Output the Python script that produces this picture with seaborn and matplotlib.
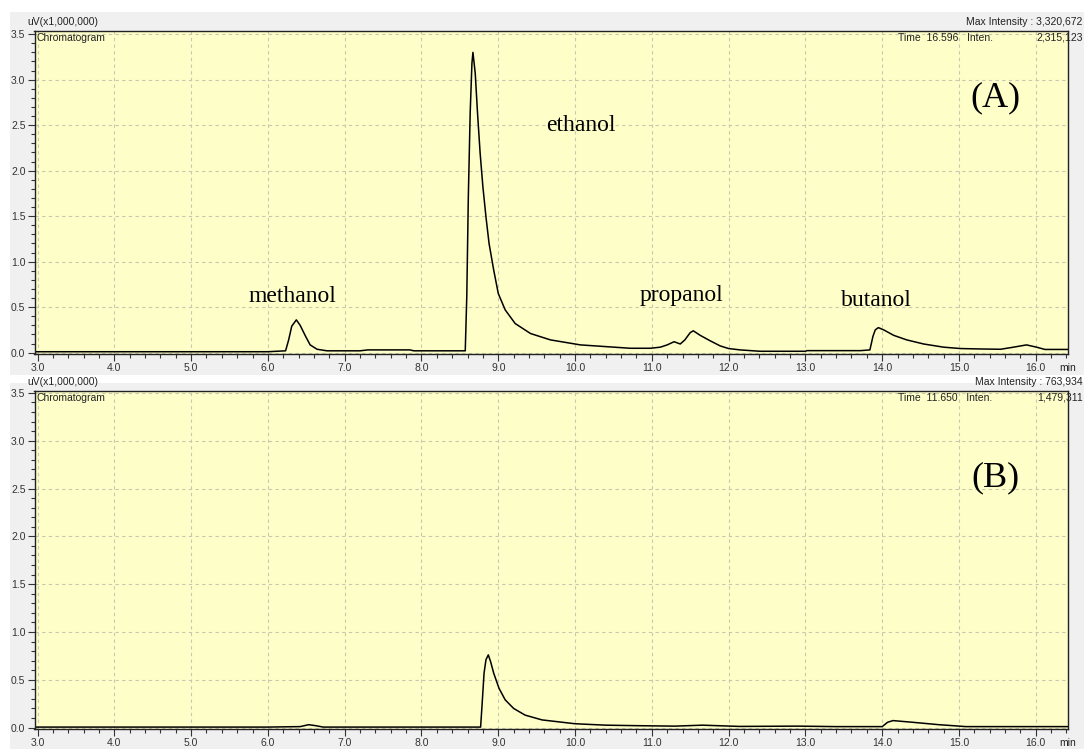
import matplotlib
matplotlib.use("Agg")
import matplotlib.pyplot as plt
import seaborn as sns
import pandas as pd
from matplotlib.patches import Rectangle
from matplotlib.ticker import MultipleLocator, FormatStrFormatter

# ---- data (time in min, intensity in uV x 1,000,000) ----
time_a = [2.97, 3.5, 4.5, 5.5, 6.0, 6.23, 6.27, 6.31, 6.37, 6.42, 6.49, 6.55, 6.64, 6.77,
          6.95, 7.20, 7.30, 7.85, 7.90, 8.57, 8.59, 8.61, 8.634, 8.657, 8.670, 8.70, 8.73,
          8.764, 8.80, 8.84, 8.88, 8.94, 9.00, 9.09, 9.22, 9.42, 9.68, 10.07, 10.72,
          10.98, 11.11, 11.20, 11.29, 11.37, 11.43, 11.50, 11.54, 11.63, 11.76, 11.89,
          12.0, 12.15, 12.41, 13.0, 13.02, 13.72, 13.84, 13.88, 13.91, 13.95, 14.02,
          14.15, 14.32, 14.54, 14.80, 15.02, 15.3, 15.54, 15.71, 15.88, 16.01, 16.12,
          16.42]
inten_a = [0.01, 0.01, 0.01, 0.01, 0.01, 0.02, 0.14, 0.29, 0.36, 0.30, 0.18, 0.085, 0.037,
           0.02, 0.02, 0.02, 0.03, 0.03, 0.02, 0.02, 0.62, 1.71, 2.63, 3.18, 3.30, 3.07, 2.63,
           2.19, 1.82, 1.49, 1.20, 0.91, 0.65, 0.47, 0.32, 0.21, 0.14, 0.085, 0.048,
           0.048, 0.06, 0.085, 0.12, 0.095, 0.14, 0.22, 0.24, 0.19, 0.13, 0.074,
           0.045, 0.03, 0.015, 0.015, 0.022, 0.022, 0.03, 0.18, 0.25, 0.275, 0.25,
           0.19, 0.14, 0.095, 0.06, 0.045, 0.04, 0.037, 0.06, 0.085, 0.06, 0.035,
           0.035]

time_b = [2.97, 4.0, 5.0, 6.0, 6.42, 6.53, 6.62, 6.72, 7.5, 8.77, 8.79, 8.815, 8.84, 8.87,
          8.90, 8.94, 9.01, 9.09, 9.20, 9.35, 9.57, 10.0, 10.4, 10.79, 11.3, 11.66, 12.14,
          12.9, 13.4, 14.0, 14.07, 14.14, 14.4, 14.74, 15.09, 16.42]
inten_b = [0.005, 0.005, 0.005, 0.005, 0.01, 0.03, 0.02, 0.005, 0.005, 0.005, 0.25, 0.57,
           0.71, 0.76, 0.69, 0.57, 0.41, 0.29, 0.20, 0.13, 0.08, 0.04, 0.025, 0.02, 0.015,
           0.025, 0.012, 0.015, 0.01, 0.01, 0.055, 0.073, 0.055, 0.03, 0.01, 0.01]

labels_a = ["methanol", "ethanol", "propanol", "butanol"]
label_x = [6.32, 10.07, 11.38, 13.92]
label_y = [0.62, 2.50, 0.63, 0.57]

header_a = ["Max Intensity : 3,320,672", "Time  16.596   Inten.", "2,315,123"]
header_b = ["Max Intensity : 763,934", "Time  11.650   Inten.", "1,479,311"]

df_a = pd.DataFrame({"time": time_a, "inten": inten_a})
df_b = pd.DataFrame({"time": time_b, "inten": inten_b})

sns.set_theme(style="white")
plt.rcParams["font.family"] = ["Liberation Sans", "DejaVu Sans"]

W, H = 1084, 749
fig = plt.figure(figsize=(W / 100, H / 100), dpi=100)
fig.patch.set_facecolor("white")

# grey panel backgrounds
fig.patches.append(Rectangle((10 / W, 1 - 375 / H), 1 - 10 / W, (375 - 12) / H,
                             transform=fig.transFigure, facecolor="#f0f0f0",
                             edgecolor="none", zorder=-10))
fig.patches.append(Rectangle((10 / W, 0), 1 - 10 / W, (749 - 383) / H,
                             transform=fig.transFigure, facecolor="#f0f0f0",
                             edgecolor="none", zorder=-10))

ax_a = fig.add_axes([34.5 / W, 1 - 354 / H, (1068 - 34.5) / W, (354 - 31) / H])
ax_b = fig.add_axes([34.5 / W, 1 - 729 / H, (1068 - 34.5) / W, (729 - 391) / H])


def style(ax, ylim, header, tag, tagy):
    ax.set_facecolor("#fefec8")
    ax.set_xlim(2.96, 16.42)
    ax.set_ylim(*ylim)
    ax.xaxis.set_major_locator(MultipleLocator(1.0))
    ax.xaxis.set_minor_locator(MultipleLocator(0.2))
    ax.yaxis.set_major_locator(MultipleLocator(0.5))
    ax.yaxis.set_minor_locator(MultipleLocator(0.1))
    ax.xaxis.set_major_formatter(FormatStrFormatter("%.1f"))
    ax.yaxis.set_major_formatter(FormatStrFormatter("%.1f"))
    ax.tick_params(axis="both", which="major", direction="out", length=5, width=0.8,
                   labelsize=7.5, pad=1.5, colors="#333333", bottom=True, left=True)
    ax.tick_params(axis="both", which="minor", direction="out", length=3, width=0.8,
                   bottom=True, left=True, colors="#333333")
    ax.grid(True, which="major", color="#c8c8b0", linestyle=(0, (3, 3)), linewidth=0.8)
    for s in ax.spines.values():
        s.set_color("#222222")
        s.set_linewidth(1.0)
    ax.set_xlabel("")
    ax.set_ylabel("")
    ax.text(-0.007, 1.012, "uV(x1,000,000)", transform=ax.transAxes, fontsize=7.5,
            ha="left", va="bottom", color="#222222")
    ax.text(0.002, 0.995, "Chromatogram", transform=ax.transAxes, fontsize=7.5,
            ha="left", va="top", color="#222222")
    ax.text(1.014, 1.012, header[0], transform=ax.transAxes, fontsize=7.5,
            ha="right", va="bottom", color="#222222")
    ax.text(0.927, 0.995, header[1], transform=ax.transAxes, fontsize=7.5,
            ha="right", va="top", color="#222222")
    ax.text(1.014, 0.995, header[2], transform=ax.transAxes, fontsize=7.5,
            ha="right", va="top", color="#222222")
    ax.annotate("min", xy=(1.0, 0.0), xycoords="axes fraction", xytext=(0, -6.5),
                textcoords="offset points", fontsize=7.5, ha="center", va="top",
                color="#222222")
    ax.text(15.47, tagy, tag, fontsize=26, family="Liberation Serif",
            ha="center", va="center", color="black")


sns.lineplot(data=df_a, x="time", y="inten", ax=ax_a, color="black", linewidth=1.1,
             sort=False, estimator=None)
sns.lineplot(data=df_b, x="time", y="inten", ax=ax_b, color="black", linewidth=1.1,
             sort=False, estimator=None)

style(ax_a, (-0.015, 3.535), header_a, "(A)", 2.80)
style(ax_b, (-0.015, 3.52), header_b, "(B)", 2.61)

for lab, x, y in zip(labels_a, label_x, label_y):
    ax_a.text(x, y, lab, fontsize=17, family="Liberation Serif", ha="center",
              va="center", color="black")

fig.savefig("out.png", dpi=100)
